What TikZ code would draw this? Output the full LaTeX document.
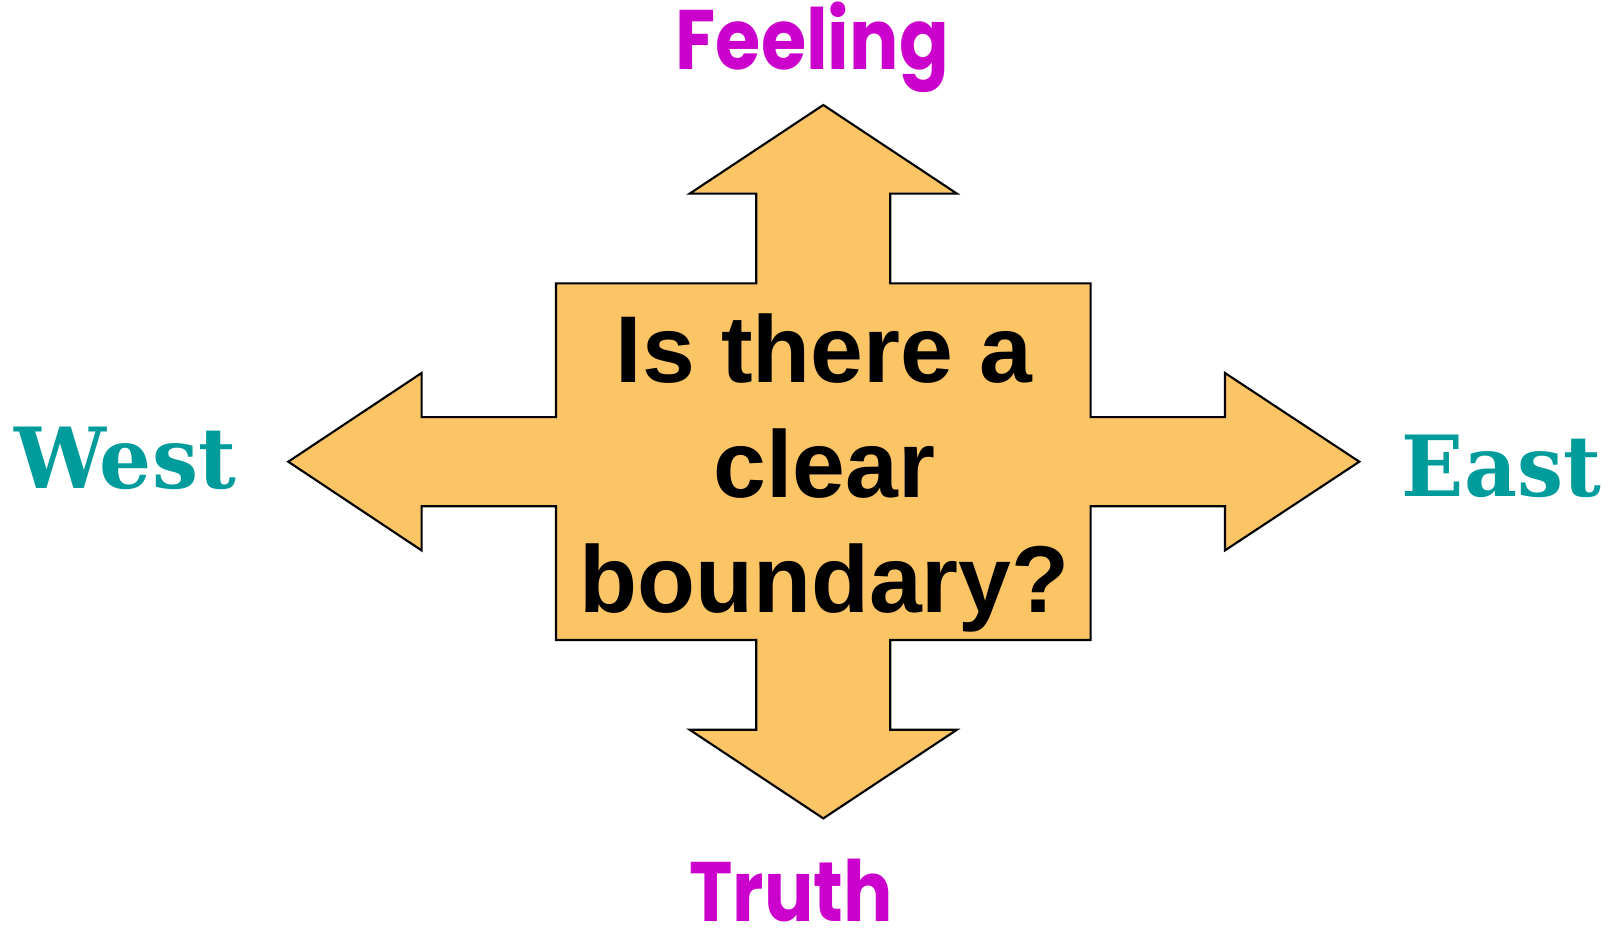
\documentclass[tikz,border=0pt]{standalone}
\usepackage{fontspec}
\setmainfont{Liberation Sans}
\newfontfamily\poleFont{Poppins}[FakeStretch=0.87]
\newfontfamily\sideFont{DejaVu Serif}[FakeStretch=0.97]
\definecolor{crossFill}{HTML}{FBC566}
\definecolor{poleMagenta}{HTML}{CC00CC}
\definecolor{sideTeal}{HTML}{009B9B}

\begin{document}
\begin{tikzpicture}[
  cross/.style={draw=black, line width=0.6pt, fill=crossFill, line join=miter},
  pole/.style={anchor=base, inner sep=0pt, text=poleMagenta, font=\poleFont\bfseries\fontsize{24}{28}\selectfont},
  side/.style={anchor=base, inner sep=0pt, text=sideTeal, font=\sideFont\bfseries\fontsize{24}{28}\selectfont},
  question/.style={align=center, inner sep=0pt, font=\bfseries\fontsize{27}{32.7}\selectfont},
]
\useasboundingbox (-8.233,-4.683) rectangle (7.847,4.617);

% four-way arrow around the question box
\draw[cross] (0,3.567) -- (1.337,2.68) -- (0.67,2.68) -- (0.67,1.783) -- (2.673,1.783)
  -- (2.673,0.445) -- (4.017,0.445) -- (4.017,0.887) -- (5.36,0) -- (4.017,-0.887)
  -- (4.017,-0.445) -- (2.673,-0.445) -- (2.673,-1.783) -- (0.67,-1.783) -- (0.67,-2.68)
  -- (1.337,-2.68) -- (0,-3.567) -- (-1.337,-2.68) -- (-0.67,-2.68) -- (-0.67,-1.783)
  -- (-2.673,-1.783) -- (-2.673,-0.445) -- (-4.017,-0.445) -- (-4.017,-0.887) -- (-5.35,0)
  -- (-4.017,0.887) -- (-4.017,0.445) -- (-2.673,0.445) -- (-2.673,1.783) -- (-0.67,1.783)
  -- (-0.67,2.68) -- (-1.337,2.68) -- cycle;

\node[question] (ask) at (0.01,-0.11) {Is there a\\clear\\boundary?};

\node[pole] (feeling) at (-0.11,3.92) {Feeling};
\node[pole, text depth=0pt] (truth) at (-0.32,-4.6) {Truth};
\node[side] (west) at (-6.98,-0.27) {West};
\node[side] (east) at (6.78,-0.35) {East};
\end{tikzpicture}
\end{document}
